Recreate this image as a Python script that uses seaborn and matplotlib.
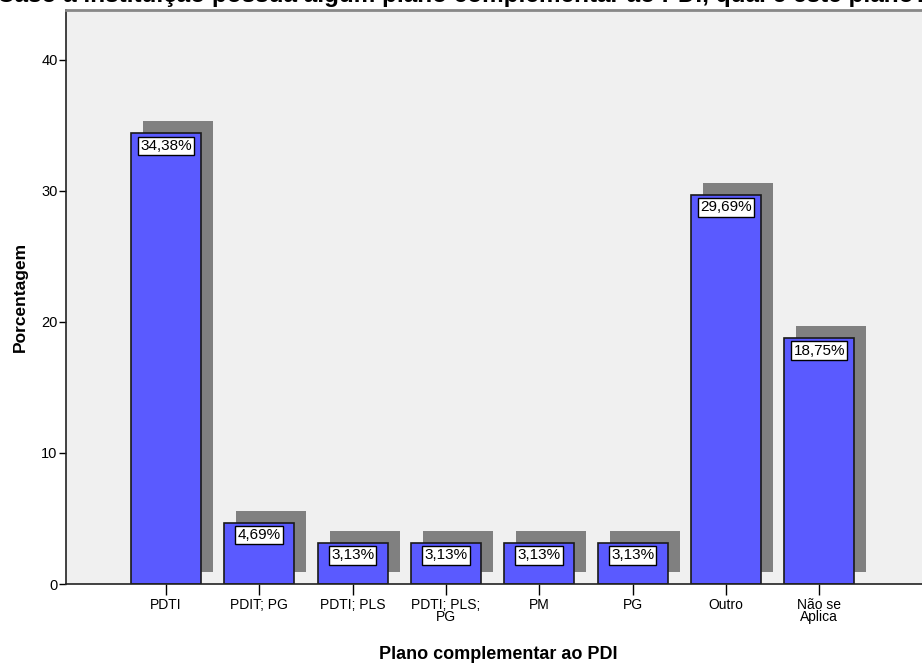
import matplotlib
matplotlib.use("Agg")
import matplotlib.pyplot as plt
import matplotlib.transforms as mtransforms
import seaborn as sns
import pandas as pd

categories = ["PDTI", "PDIT; PG", "PDTI; PLS", "PDTI; PLS;\nPG", "PM", "PG", "Outro", "Não se\nAplica"]
percentages = [34.38, 4.69, 3.13, 3.13, 3.13, 3.13, 29.69, 18.75]
value_labels = ["34,38%", "4,69%", "3,13%", "3,13%", "3,13%", "3,13%", "29,69%", "18,75%"]

df = pd.DataFrame({"plano": categories, "pct": percentages})

sns.set_theme(style="white")
plt.rcParams["font.family"] = ["Liberation Sans", "DejaVu Sans"]

fig = plt.figure(figsize=(9.22, 6.65), dpi=100)
ax = fig.add_axes([66 / 922, 81 / 665, 1 - 66 / 922 + 0.01, 574 / 665])
ax.set_facecolor("#f0f0f0")

# drop shadow bars, shifted up and to the right by a few pixels
sns.barplot(data=df, x="plano", y="pct", color="#808080", saturation=1,
            width=0.75, ax=ax, edgecolor="none", linewidth=0, errorbar=None)
shift = mtransforms.ScaledTranslation(12 / 100, 12 / 100, fig.dpi_scale_trans)
for p in list(ax.patches):
    p.set_transform(ax.transData + shift)

# main bars
sns.barplot(data=df, x="plano", y="pct", color="#5a5aff", saturation=1,
            width=0.75, ax=ax, edgecolor="#1a1a1a", linewidth=1.2, errorbar=None)

for i, (v, lab) in enumerate(zip(percentages, value_labels)):
    ax.annotate(lab, xy=(i, v), xytext=(0, -9), textcoords="offset points",
                ha="center", va="center", fontsize=11, color="black",
                bbox=dict(boxstyle="square,pad=0.15", fc="white", ec="black", lw=1))

ax.set_xlim(-1.07, 8.2)
ax.set_ylim(0, 43.8)
ax.set_yticks([0, 10, 20, 30, 40])
ax.tick_params(axis="y", which="both", direction="out", length=5, width=1,
               color="black", labelsize=10.5, left=True, pad=1)
ax.tick_params(axis="x", direction="out", length=8, width=1, color="black",
               labelsize=10, bottom=True, pad=2)
for t in ax.get_xticklabels():
    t.set_linespacing(0.85)
    t.set_color("black")
for t in ax.get_yticklabels():
    t.set_color("black")

for side in ["left", "bottom"]:
    ax.spines[side].set_color("#222222")
    ax.spines[side].set_linewidth(1.2)
ax.spines["top"].set_color("#888888")
ax.spines["top"].set_linewidth(2)
ax.spines["right"].set_visible(False)

ax.set_xlabel("Plano complementar ao PDI", fontsize=13, fontweight="bold",
              labelpad=16, color="black")
ax.set_ylabel("Porcentagem", fontsize=12.5, fontweight="bold", labelpad=10, color="black")

fig.text(-3 / 922, 1 - 2 / 665, "Caso a instituição possua algum plano complementar ao PDI, qual é este plano?",
         ha="left", va="baseline", fontsize=17.5, fontweight="bold", color="black")

fig.savefig("out.png", dpi=100, facecolor="white")
